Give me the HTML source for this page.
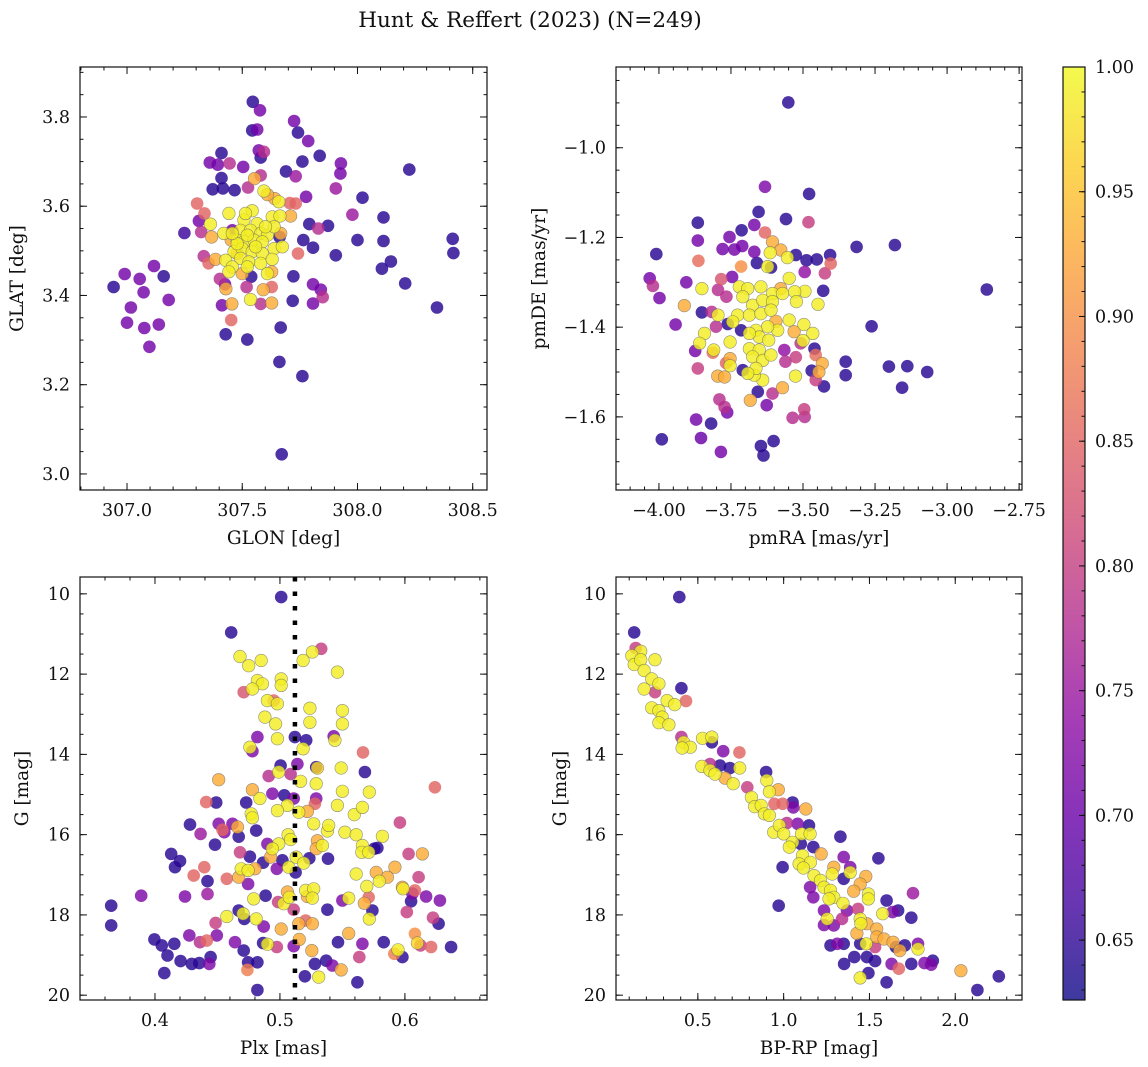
<!DOCTYPE html>
<html><head><meta charset="utf-8"><title>Hunt & Reffert (2023)</title>
<style>
html,body{margin:0;padding:0;background:#fff;}
svg{display:block;}
text{font-family:"DejaVu Serif","Liberation Serif",serif;fill:#111;}
</style></head>
<body>
<svg id="fig" width="1148" height="1067" viewBox="0 0 1148 1067" xmlns="http://www.w3.org/2000/svg">
<defs>
<linearGradient id="plasmaGrad" x1="0" y1="1" x2="0" y2="0"></linearGradient>
</defs>
<text x="530" y="27" font-size="21.5" text-anchor="middle">Hunt &amp; Reffert (2023) (N=249)</text>
</svg>
<script>
// ---- Panel 1: sky position ----
const p1Glon=[307.546,307.577,307.725,307.742,307.543,307.565,307.786,307.572,307.594,307.58,307.41,307.359,307.394,307.445,307.504,307.836,307.761,307.928,307.926,307.69,307.732,308.225,307.41,307.553,307.58,307.372,307.416,307.467,307.525,307.906,307.777,308.022,307.304,307.336,307.312,307.322,307.249,307.367,307.978,308.113,307.791,307.872,307.83,307.765,307.807,308.0,308.113,308.413,308.416,307.906,307.742,308.145,308.106,308.207,308.345,307.722,307.807,307.841,307.849,307.719,307.807,307.333,307.354,307.384,307.403,307.429,307.425,307.412,307.455,307.452,307.519,307.536,307.58,307.591,307.628,307.628,307.539,307.428,307.522,307.667,307.661,307.761,307.671,306.942,306.99,307.055,307.117,307.159,307.072,307.181,307.017,307.0,307.075,307.138,307.097,
307.594,307.659,307.442,307.362,307.420,307.543,307.507,307.565,307.630,307.664,307.493,307.536,307.580,307.609,307.638,307.478,307.507,307.551,307.587,307.638,307.674,307.464,307.5,307.543,307.587,307.493,307.529,307.58,307.630,307.428,307.457,307.522,307.609,307.478,307.522,307.558,307.457,307.601,307.514,307.442,
307.710,307.662,307.706,307.732,307.452,307.5,307.457,307.628,307.478,307.667,307.641,307.609];
const p1Glat=[3.834,3.815,3.791,3.765,3.770,3.772,3.746,3.725,3.722,3.709,3.719,3.698,3.693,3.696,3.688,3.713,3.700,3.696,3.673,3.678,3.667,3.682,3.663,3.662,3.669,3.638,3.64,3.636,3.642,3.64,3.621,3.619,3.606,3.584,3.567,3.542,3.54,3.531,3.581,3.575,3.56,3.556,3.55,3.524,3.507,3.524,3.522,3.527,3.495,3.49,3.494,3.476,3.46,3.427,3.373,3.443,3.425,3.413,3.396,3.388,3.382,3.488,3.472,3.481,3.437,3.415,3.425,3.378,3.381,3.345,3.419,3.391,3.381,3.413,3.383,3.419,3.442,3.313,3.301,3.328,3.251,3.219,3.044,3.419,3.448,3.437,3.466,3.443,3.407,3.39,3.373,3.339,3.327,3.335,3.285,
3.634,3.610,3.584,3.560,3.539,3.590,3.569,3.561,3.576,3.578,3.546,3.546,3.539,3.535,3.554,3.524,3.520,3.524,3.520,3.505,3.509,3.498,3.505,3.498,3.494,3.483,3.475,3.472,3.481,3.479,3.464,3.464,3.449,3.516,3.535,3.509,3.539,3.554,3.584,3.453,
3.578,3.531,3.607,3.606,3.524,3.449,3.546,3.453,3.494,3.539,3.617,3.626];
const p1Prob=[0.645,0.71,0.71,0.645,0.645,0.71,0.71,0.71,0.78,0.645,0.645,0.71,0.71,0.78,0.71,0.645,0.645,0.71,0.71,0.645,0.75,0.645,0.645,0.93,0.78,0.645,0.645,0.645,0.78,0.75,0.71,0.645,0.85,0.85,0.71,0.78,0.66,0.93,0.75,0.645,0.645,0.645,0.78,0.645,0.645,0.645,0.645,0.645,0.645,0.645,0.85,0.645,0.645,0.645,0.645,0.645,0.71,0.71,0.78,0.645,0.71,0.78,0.85,0.93,0.78,0.93,0.71,0.71,0.93,0.85,0.78,0.99,0.78,0.93,0.93,0.85,0.645,0.645,0.645,0.645,0.645,0.645,0.645,0.645,0.71,0.71,0.71,0.645,0.71,0.71,0.71,0.71,0.71,0.71,0.71,
0.99,0.99,0.99,0.99,0.99,0.99,0.99,0.99,0.99,0.99,0.99,0.99,0.99,0.99,0.99,0.99,0.99,0.99,0.99,0.99,0.99,0.99,0.99,0.99,0.99,0.99,0.99,0.99,0.99,0.99,0.99,0.99,0.99,0.99,0.99,0.99,0.99,0.99,0.99,0.99,
0.93,0.645,0.85,0.85,0.93,0.93,0.71,0.93,0.93,0.93,0.93,0.93];

// ---- Panel 2: proper motions ----
const p2Pmra=[-3.551,-3.632,-3.479,-3.654,-3.559,-3.481,-3.865,-3.669,-3.632,-3.713,-3.755,-3.865,-3.779,-3.738,-3.711,-4.009,-3.314,-3.181,-3.669,-3.606,-3.577,-3.525,-3.488,-3.452,-3.406,-3.404,-3.863,-3.715,-3.66,-3.611,-3.494,-3.424,-4.032,-4.021,-3.998,-2.862,-3.905,-3.784,-3.746,-3.795,-3.766,-3.43,-3.912,-3.851,-3.817,-3.942,-3.802,-3.761,-3.715,-3.262,-3.874,-3.865,-3.813,-3.767,-3.796,-3.772,-3.709,-3.565,-3.561,-3.525,-3.508,-3.46,-3.456,-3.433,-3.445,-3.47,-3.456,-3.427,-3.352,-3.352,-3.202,-3.138,-3.069,-3.156,-3.571,-3.683,-3.657,-3.606,-3.626,-3.79,-3.772,-3.763,-3.496,-3.536,-3.494,-3.871,-3.819,-3.99,-3.854,-3.785,-3.646,-3.602,-3.637,
-3.851,-3.795,-3.842,-3.859,-3.81,-3.753,-3.753,-3.614,-3.554,-3.623,-3.548,-3.493,-3.448,-3.497,-3.466,-3.5,-3.526,-3.64,-3.669,
-3.721,-3.692,-3.646,-3.606,-3.571,-3.529,-3.523,-3.709,-3.675,-3.64,-3.606,-3.727,-3.686,-3.646,-3.611,-3.548,-3.588,-3.623,-3.663,-3.652,-3.686,-3.619,-3.686,-3.652,-3.675,-3.64,-3.611,-3.663,-3.692,-3.744,
-3.577,-3.531,-3.594,-3.753];
const p2Pmde=[-0.899,-1.087,-1.103,-1.143,-1.159,-1.166,-1.167,-1.172,-1.189,-1.184,-1.199,-1.207,-1.226,-1.227,-1.219,-1.237,-1.221,-1.217,-1.232,-1.21,-1.228,-1.239,-1.251,-1.249,-1.239,-1.258,-1.252,-1.265,-1.257,-1.267,-1.277,-1.28,-1.291,-1.308,-1.335,-1.316,-1.3,-1.293,-1.288,-1.317,-1.332,-1.319,-1.352,-1.367,-1.366,-1.394,-1.399,-1.393,-1.407,-1.398,-1.453,-1.492,-1.457,-1.48,-1.509,-1.511,-1.496,-1.451,-1.477,-1.467,-1.436,-1.448,-1.462,-1.481,-1.5,-1.497,-1.518,-1.532,-1.477,-1.507,-1.488,-1.487,-1.5,-1.535,-1.535,-1.563,-1.544,-1.548,-1.574,-1.561,-1.578,-1.59,-1.583,-1.602,-1.6,-1.606,-1.615,-1.65,-1.647,-1.678,-1.665,-1.654,-1.686,
-1.314,-1.373,-1.414,-1.436,-1.451,-1.433,-1.486,-1.234,-1.245,-1.265,-1.291,-1.32,-1.349,-1.394,-1.414,-1.43,-1.509,-1.518,-1.507,
-1.31,-1.314,-1.31,-1.325,-1.325,-1.321,-1.343,-1.332,-1.351,-1.34,-1.343,-1.373,-1.373,-1.37,-1.362,-1.384,-1.407,-1.399,-1.407,-1.422,-1.414,-1.429,-1.448,-1.451,-1.466,-1.474,-1.462,-1.492,-1.503,-1.388,
-1.314,-1.41,-1.387,-1.47];
const p2Prob=[0.645,0.72,0.645,0.645,0.645,0.8,0.645,0.71,0.85,0.645,0.71,0.71,0.71,0.71,0.71,0.645,0.645,0.645,0.71,0.93,0.93,0.645,0.645,0.645,0.645,0.85,0.86,0.9,0.645,0.645,0.74,0.8,0.71,0.78,0.71,0.645,0.71,0.83,0.71,0.78,0.78,0.645,0.93,0.645,0.78,0.71,0.78,0.645,0.645,0.645,0.71,0.8,0.86,0.85,0.93,0.93,0.645,0.74,0.78,0.8,0.78,0.645,0.86,0.93,0.93,0.645,0.8,0.645,0.645,0.645,0.645,0.645,0.645,0.645,0.93,0.93,0.645,0.78,0.71,0.78,0.78,0.71,0.8,0.78,0.78,0.71,0.645,0.645,0.7,0.71,0.645,0.645,0.645,
0.99,0.99,0.99,0.99,0.99,0.99,0.99,0.99,0.99,0.99,0.99,0.99,0.99,0.99,0.99,0.99,0.99,0.99,0.99,
0.99,0.99,0.99,0.99,0.99,0.99,0.99,0.99,0.99,0.99,0.99,0.99,0.99,0.99,0.99,0.99,0.99,0.99,0.99,0.99,0.99,0.99,0.99,0.99,0.99,0.99,0.99,0.99,0.99,0.99,
0.93,0.93,0.93,0.93];

// ---- Panel 3: parallax vs G ----
const p3Plx=[0.501,0.461,0.533,0.468,0.475,0.485,0.5185,0.526,0.546,0.482,0.486,0.501,0.501,0.471,0.478,0.490,0.495,0.498,0.524,0.550,0.488,0.4965,0.524,0.550,0.482,0.498,0.512,0.521,0.543,0.544,0.476,0.478,0.5185,0.5665,0.5005,0.499,0.514,0.529,0.530,0.549,0.568,0.491,0.5085,0.451,0.5165,0.529,0.550,0.5715,0.624,0.478,0.494,0.484,0.5035,0.506,0.511,0.441,0.449,0.473,0.498,0.477,0.478,0.515,0.522,0.528,0.529,0.546,0.5595,0.566,0.428,0.4365,0.451,0.4555,0.462,0.466,0.467,0.481,0.454,0.527,0.538,0.539,0.552,0.561,0.582,0.596,0.5065,0.5085,0.448,0.490,0.499,0.494,0.530,0.534,0.529,0.566,0.5655,0.571,0.5755,0.578,0.413,0.420,0.416,0.468,0.476,0.4865,0.4925,0.4975,0.502,0.507,0.513,0.519,0.5235,0.5385,0.603,0.614,0.431,0.4395,0.442,0.4575,0.467,0.469,0.4745,0.480,0.5125,0.561,0.577,0.5795,0.586,0.592,0.611,0.5695,0.598,0.5985,0.389,0.365,0.424,0.442,0.4745,0.479,0.4885,0.4985,0.503,0.506,0.5075,0.5205,0.527,0.522,0.526,0.550,0.555,0.5675,0.571,0.606,0.605,0.608,0.617,0.628,0.538,0.511,0.365,0.4575,0.467,0.4705,0.4715,0.481,0.4485,0.487,0.515,0.5205,0.526,0.501,0.574,0.5715,0.6015,0.6225,0.627,0.555,0.4275,0.4495,0.3995,0.4055,0.4155,0.410,0.436,0.4415,0.464,0.471,0.4865,0.490,0.4975,0.511,0.5155,0.5255,0.5465,0.566,0.583,0.608,0.610,0.6125,0.621,0.637,0.4205,0.4295,0.4355,0.4435,0.4445,0.4745,0.482,0.474,0.4075,0.528,0.537,0.542,0.549,0.5635,0.5915,0.5945,0.598,0.520,0.531,0.562,0.482];
const p3G=[10.08,10.96,11.37,11.56,11.79,11.66,11.66,11.45,11.95,12.16,12.24,12.12,12.28,12.45,12.37,12.66,12.66,12.74,12.85,12.91,13.07,13.24,13.2,13.24,13.57,13.61,13.57,13.65,13.55,13.65,13.82,13.92,13.86,13.95,14.28,14.44,14.24,14.32,14.34,14.34,14.44,14.54,14.49,14.63,14.67,14.73,14.92,14.94,14.82,14.88,14.98,15.1,15.02,15.27,15.1,15.19,15.2,15.2,15.4,15.48,15.58,15.44,15.42,15.23,15.1,15.27,15.5,15.32,15.75,15.98,15.73,15.94,15.73,15.81,16.05,15.9,15.88,15.73,15.91,15.77,15.94,16.0,16.04,15.7,16.0,16.12,16.25,16.23,16.23,16.35,16.15,16.27,16.35,16.27,16.44,16.44,16.35,16.33,16.48,16.66,16.81,16.44,16.55,16.7,16.56,16.85,16.64,16.81,16.56,16.71,16.59,16.6,16.48,16.48,17.02,16.81,17.16,17.1,17.06,16.85,16.89,16.85,16.94,16.98,16.94,17.16,17.06,16.81,17.06,17.29,17.31,17.35,17.52,17.77,17.54,17.48,17.23,17.6,17.52,17.68,17.72,17.43,17.56,17.39,17.35,17.54,17.58,17.64,17.58,17.71,17.56,17.47,17.66,17.39,17.54,17.64,17.87,17.87,18.26,18.04,17.89,17.97,18.1,18.1,18.2,18.29,18.22,18.14,18.22,18.35,17.89,18.1,17.93,18.07,18.22,18.46,18.51,18.51,18.61,18.76,18.72,19.01,18.68,18.64,18.68,18.89,18.7,18.73,18.8,18.78,18.61,18.89,18.68,18.72,18.68,18.47,18.7,18.76,18.8,18.8,19.15,19.22,19.2,19.22,19.05,19.18,19.18,19.37,19.45,19.22,19.14,19.26,19.37,19.05,18.97,18.87,19.05,19.53,19.55,19.68,19.87];
const p3Prob=[0.645,0.645,0.8,0.99,0.99,0.99,0.99,0.99,0.99,0.99,0.99,0.99,0.99,0.83,0.99,0.99,0.85,0.99,0.99,0.99,0.99,0.99,0.99,0.99,0.72,0.99,0.645,0.645,0.72,0.99,0.99,0.72,0.99,0.85,0.645,0.99,0.72,0.645,0.97,0.99,0.645,0.78,0.78,0.93,0.99,0.99,0.99,0.99,0.85,0.93,0.72,0.99,0.645,0.99,0.72,0.85,0.645,0.645,0.99,0.99,0.99,0.99,0.93,0.85,0.72,0.99,0.99,0.99,0.645,0.75,0.72,0.72,0.72,0.93,0.645,0.645,0.85,0.99,0.99,0.99,0.99,0.99,0.99,0.8,0.99,0.99,0.645,0.72,0.99,0.99,0.93,0.99,0.93,0.99,0.99,0.99,0.645,0.645,0.645,0.645,0.645,0.8,0.645,0.645,0.93,0.72,0.645,0.99,0.99,0.99,0.645,0.645,0.8,0.93,0.85,0.85,0.645,0.85,0.93,0.99,0.99,0.93,0.645,0.99,0.93,0.99,0.93,0.93,0.8,0.99,0.93,0.99,0.72,0.645,0.72,0.75,0.72,0.99,0.645,0.8,0.99,0.93,0.99,0.99,0.99,0.93,0.99,0.72,0.99,0.93,0.85,0.72,0.645,0.85,0.72,0.72,0.645,0.8,0.645,0.99,0.645,0.99,0.645,0.99,0.8,0.72,0.93,0.85,0.93,0.93,0.645,0.99,0.8,0.8,0.645,0.93,0.72,0.72,0.645,0.645,0.645,0.645,0.78,0.85,0.72,0.645,0.645,0.99,0.8,0.72,0.93,0.93,0.645,0.72,0.645,0.9,0.97,0.8,0.85,0.645,0.645,0.645,0.645,0.72,0.645,0.645,0.645,0.88,0.645,0.645,0.645,0.72,0.93,0.8,0.88,0.99,0.645,0.645,0.99,0.645,0.645];

// ---- Panel 4: colour-magnitude diagram ----
const p4Bprp=[0.392,0.129,0.138,0.167,0.115,0.129,0.167,0.25,0.187,0.231,0.273,0.187,0.25,0.404,0.321,0.365,0.431,0.231,0.273,0.292,0.273,0.331,0.404,0.417,0.456,0.408,0.527,0.581,0.581,0.648,0.742,0.523,0.571,0.571,0.629,0.687,0.6,0.658,0.706,0.744,0.788,0.898,0.902,0.812,0.917,0.969,0.831,0.869,0.888,0.917,0.946,0.994,1.052,1.056,1.129,0.942,0.975,1.0,1.019,1.081,1.148,1.052,1.033,1.104,1.154,1.1,1.173,1.219,1.11,1.09,1.156,1.115,1.331,1.552,0.994,1.177,1.215,1.235,1.292,1.35,1.388,1.388,1.283,1.35,1.479,1.446,1.408,1.273,1.292,1.264,1.346,1.494,1.494,1.154,1.173,0.971,1.6,1.754,1.369,1.433,1.235,1.254,1.235,1.292,1.34,1.446,1.45,1.485,1.577,1.635,1.667,1.744,1.427,1.542,1.542,1.585,1.638,1.677,1.654,1.706,1.783,1.783,1.273,1.312,1.35,1.446,1.481,1.533,1.412,1.352,1.485,1.533,1.629,1.671,1.744,1.821,1.86,1.869,1.494,1.446,1.6,2.033,2.254,2.129];
const p4G=[10.08,10.96,11.35,11.43,11.54,11.76,11.64,11.64,11.91,12.12,12.24,12.37,12.45,12.35,12.66,12.76,12.67,12.84,12.91,13.07,13.21,13.26,13.57,13.7,13.82,13.84,13.6,13.57,13.7,13.92,13.95,14.3,14.24,14.4,14.28,14.34,14.49,14.59,14.73,14.34,14.82,14.44,14.65,15.07,14.93,14.88,15.3,15.27,15.48,15.52,15.23,15.23,15.2,15.32,15.36,15.94,15.77,15.98,15.71,15.73,15.77,16.19,16.31,15.98,15.98,16.23,16.31,16.48,16.52,16.73,16.69,16.83,16.05,16.59,16.81,17.02,17.14,17.31,16.81,16.56,16.81,16.94,16.98,17.1,17.04,17.23,17.41,17.39,17.56,17.6,17.71,17.48,17.6,17.31,17.56,17.77,17.64,17.46,17.89,17.85,17.89,18.1,18.25,18.26,18.1,18.1,18.22,18.22,17.97,17.93,17.89,18.07,18.46,18.35,18.55,18.6,18.68,18.89,18.8,18.76,18.72,18.85,18.76,18.72,18.72,18.72,18.72,18.8,19.05,19.22,19.05,19.15,19.22,19.34,19.22,19.2,19.24,19.14,19.45,19.57,19.68,19.39,19.53,19.87];
const p4Prob=[0.645,0.645,0.8,0.99,0.99,0.99,0.99,0.99,0.99,0.99,0.99,0.99,0.8,0.645,0.99,0.99,0.85,0.99,0.99,0.99,0.99,0.99,0.78,0.99,0.99,0.99,0.99,0.99,0.645,0.72,0.85,0.99,0.78,0.99,0.645,0.645,0.99,0.93,0.99,0.99,0.8,0.645,0.99,0.99,0.99,0.93,0.99,0.99,0.99,0.99,0.85,0.85,0.645,0.72,0.93,0.99,0.99,0.99,0.78,0.72,0.645,0.99,0.99,0.99,0.99,0.645,0.645,0.93,0.99,0.99,0.99,0.99,0.645,0.645,0.645,0.99,0.99,0.99,0.93,0.72,0.72,0.99,0.99,0.645,0.93,0.93,0.93,0.99,0.99,0.99,0.99,0.99,0.99,0.72,0.72,0.645,0.645,0.75,0.72,0.8,0.72,0.99,0.72,0.72,0.78,0.99,0.99,0.93,0.99,0.72,0.645,0.645,0.93,0.93,0.93,0.93,0.93,0.93,0.645,0.645,0.72,0.99,0.645,0.72,0.645,0.645,0.99,0.8,0.645,0.645,0.645,0.645,0.72,0.85,0.645,0.72,0.72,0.645,0.645,0.99,0.645,0.93,0.645,0.645];

// ---- Colour scale ----
const cbTicks=[0.65,0.70,0.75,0.80,0.85,0.90,0.95,1.00];
const cbLabels=["0.65","0.70","0.75","0.80","0.85","0.90","0.95","1.00"];
const VMIN=0.626, VMAX=1.0;
const PLASMA=["#0d0887","#41049d","#6a00a8","#8f0da4","#b12a90","#cc4778","#e16462","#f2844b","#fca636","#fcce25","#f0f921"];

const NS="http://www.w3.org/2000/svg";
const svg=document.getElementById('fig');
function mk(tag,attrs,parent){const e=document.createElementNS(NS,tag);for(const k in attrs)e.setAttribute(k,attrs[k]);(parent||svg).appendChild(e);return e;}
function hex2rgb(h){return [parseInt(h.substr(1,2),16),parseInt(h.substr(3,2),16),parseInt(h.substr(5,2),16)];}
function plasma(t){t=Math.max(0,Math.min(1,t));const f=t*10;const i=Math.min(9,Math.floor(f));const u=f-i;const a=hex2rgb(PLASMA[i]),b=hex2rgb(PLASMA[i+1]);return 'rgb('+a.map((v,k)=>Math.round(v+(b[k]-v)*u)).join(',')+')';}
function cmap(p){return plasma((p-VMIN)/(VMAX-VMIN));}

const grad=document.getElementById('plasmaGrad');
for(let i=0;i<=10;i++){const s=document.createElementNS(NS,'stop');s.setAttribute('offset',(i*10)+'%');s.setAttribute('stop-color',PLASMA[i]);grad.appendChild(s);}

function fmt(v,d){const s=Math.abs(v).toFixed(d);return (v<0?'\u2212':'')+s;}

function panel(cfg,xs,ys,ps){
  const g=mk('g',{});
  
  
  const [L,T,R,B]=cfg.box;
  const sx=v=>L+(v-cfg.xd[0])/(cfg.xd[1]-cfg.xd[0])*(R-L);
  const sy=cfg.yinv? (v=>T+(v-cfg.yd[0])/(cfg.yd[1]-cfg.yd[0])*(B-T)) : (v=>B-(v-cfg.yd[0])/(cfg.yd[1]-cfg.yd[0])*(B-T));
  const cp='clip-'+cfg.name;
  const cl=mk('clipPath',{id:cp},g);mk('rect',{x:L,y:T,width:R-L,height:B-T},cl);
  const pts=mk('g',{'clip-path':'url(#'+cp+')'},g);
  
  
  const idx=ps.map((p,i)=>i).sort((a,b)=>ps[a]-ps[b]);
  idx.forEach(i=>{
    const c=mk('circle',{cx:sx(xs[i]).toFixed(1),cy:sy(ys[i]).toFixed(1),r:6.3,fill:cmap(ps[i]),'fill-opacity':0.82,stroke:ps[i]>0.9?'#666':'none','stroke-width':0.6,'stroke-opacity':0.7},pts);
    
    
  });
  if(cfg.vline!==undefined){
    const l=mk('line',{x1:sx(cfg.vline),x2:sx(cfg.vline),y1:T,y2:B,stroke:'#000','stroke-width':4.5,'stroke-dasharray':'4.5 10'},g);
    
    
  }
  const tk=mk('g',{stroke:'#111','stroke-width':1},g);
  
  
  const eps=1e-9;
  let n0=Math.ceil(cfg.xd[0]/cfg.xminor-eps);
  for(let k=n0;k*cfg.xminor<=cfg.xd[1]+eps;k++){const x=sx(k*cfg.xminor);mk('line',{x1:x,x2:x,y1:B,y2:B-3.5},tk);mk('line',{x1:x,x2:x,y1:T,y2:T+3.5},tk);}
  const ylo=Math.min(...cfg.yd),yhi=Math.max(...cfg.yd);
  n0=Math.ceil(ylo/cfg.yminor-eps);
  for(let k=n0;k*cfg.yminor<=yhi+eps;k++){const y=sy(k*cfg.yminor);mk('line',{x1:L,x2:L+3.5,y1:y,y2:y},tk);mk('line',{x1:R,x2:R-3.5,y1:y,y2:y},tk);}
  cfg.xt.forEach((v,i)=>{const x=sx(v);mk('line',{x1:x,x2:x,y1:B,y2:B-7},tk);mk('line',{x1:x,x2:x,y1:T,y2:T+7},tk);
    const t=mk('text',{x:x,y:B+26,'font-size':17.5,'text-anchor':'middle'},g);t.textContent=cfg.xl[i];
    
    });
  cfg.yt.forEach((v,i)=>{const y=sy(v);mk('line',{x1:L,x2:L+7,y1:y,y2:y},tk);mk('line',{x1:R,x2:R-7,y1:y,y2:y},tk);
    const t=mk('text',{x:L-10,y:y+6,'font-size':17.5,'text-anchor':'end'},g);t.textContent=cfg.yl[i];
    
    });
  const fr=mk('rect',{x:L,y:T,width:R-L,height:B-T,fill:'none',stroke:'#111','stroke-width':1.2},g);
  
  
  const xt=mk('text',{x:(L+R)/2,y:B+54,'font-size':18.5,'text-anchor':'middle'},g);xt.textContent=cfg.xlabel;
  
  
  const yt=mk('text',{x:0,y:0,'font-size':18.5,'text-anchor':'middle',transform:'translate('+cfg.ylx+','+((T+B)/2)+') rotate(-90)'},g);yt.textContent=cfg.ylabel;
  
  
}

const r=(a,b,s)=>{const o=[];for(let v=a;v<=b+1e-9;v+=s)o.push(+v.toFixed(4));return o;};
let xt,yt;
xt=[307,307.5,308,308.5];yt=r(3.0,3.8,0.2);
panel({name:'panel-sky',box:[80,67,487,490],xd:[306.796,308.562],yd:[2.964,3.912],xt:xt,xl:xt.map(v=>fmt(v,1)),yt:yt,yl:yt.map(v=>fmt(v,1)),xminor:0.1,yminor:0.05,xlabel:'GLON [deg]',ylabel:'GLAT [deg]',ylx:23},p1Glon,p1Glat,p1Prob);
xt=r(-4,-2.75,0.25);yt=r(-1.6,-1.0,0.2);
panel({name:'panel-pm',box:[616,67,1022,490],xd:[-4.149,-2.74],yd:[-1.763,-0.82],xt:xt,xl:xt.map(v=>fmt(v,2)),yt:yt,yl:yt.map(v=>fmt(v,1)),xminor:0.05,yminor:0.05,xlabel:'pmRA [mas/yr]',ylabel:'pmDE [mas/yr]',ylx:545},p2Pmra,p2Pmde,p2Prob);
xt=[0.4,0.5,0.6];yt=r(10,20,2);
panel({name:'panel-plx',box:[80,577,487,1000],xd:[0.34,0.6657],yd:[9.58,20.12],yinv:true,xt:xt,xl:xt.map(v=>fmt(v,1)),yt:yt,yl:yt.map(v=>String(v)),xminor:0.02,yminor:0.5,xlabel:'Plx [mas]',ylabel:'G [mag]',ylx:28,vline:0.512},p3Plx,p3G,p3Prob);
xt=[0.5,1.0,1.5,2.0];
panel({name:'panel-cmd',box:[616,577,1022,1000],xd:[0.023,2.389],yd:[9.58,20.12],yinv:true,xt:xt,xl:xt.map(v=>fmt(v,1)),yt:yt,yl:yt.map(v=>String(v)),xminor:0.1,yminor:0.5,xlabel:'BP-RP [mag]',ylabel:'G [mag]',ylx:566},p4Bprp,p4G,p4Prob);

(function(){
  const L=1063,R=1085,T=67,B=1000;
  const g=mk('g',{});
  
  
  const sy=v=>B-(v-VMIN)/(VMAX-VMIN)*(B-T);
  mk('rect',{x:L,y:T,width:R-L,height:B-T,fill:'url(#plasmaGrad)','fill-opacity':0.8},g);
  for(let k=63;k<=100;k++){const y=sy(k/100);mk('line',{x1:R,x2:R-3.5,y1:y,y2:y,stroke:'#111','stroke-width':1},g);}
  cbTicks.forEach((v,i)=>{const y=sy(v);mk('line',{x1:R,x2:R-6,y1:y,y2:y,stroke:'#111','stroke-width':1},g);
    const t=mk('text',{x:R+10,y:y+6,'font-size':17.5},g);t.textContent=cbLabels[i];
    
    });
  mk('rect',{x:L,y:T,width:R-L,height:B-T,fill:'none',stroke:'#111','stroke-width':1.2},g);
})();
</script>
</body></html>
